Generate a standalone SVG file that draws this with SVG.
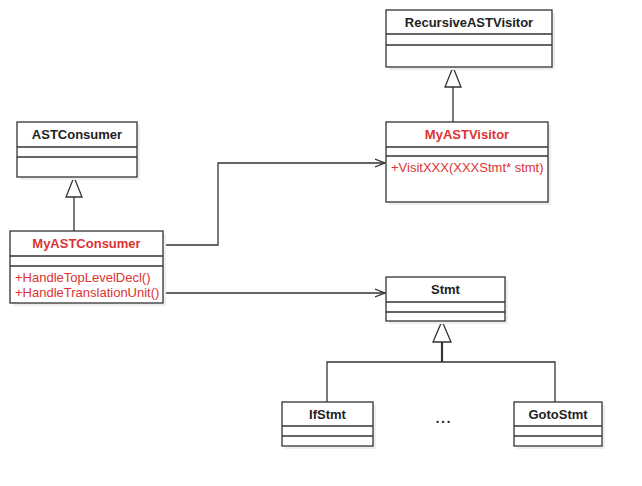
<svg xmlns="http://www.w3.org/2000/svg" width="642" height="486" viewBox="0 0 642 486">
<defs>
<style>
.box{fill:#fff;stroke:#333;stroke-width:1.3}
.sh{fill:#eeeeee}
.div{stroke:#333;stroke-width:1.3}
.ln{fill:none;stroke:#333;stroke-width:1.3}
.tri{fill:#fff;stroke:#333;stroke-width:1.3}
.nm{font-family:"Liberation Sans",Arial,sans-serif;font-size:13px;font-weight:bold;fill:#222;text-anchor:middle}
.nmr{font-family:"Liberation Sans",Arial,sans-serif;font-size:13px;font-weight:bold;fill:#db3333;text-anchor:middle}
.op{font-family:"Liberation Sans",Arial,sans-serif;font-size:13px;fill:#db3333}
</style>
<marker id="open" markerWidth="12" markerHeight="10" refX="10" refY="5" orient="auto" markerUnits="userSpaceOnUse">
<path d="M0,1 L10,5 L0,9" fill="none" stroke="#333" stroke-width="1.3"/>
</marker>
</defs>
<rect width="642" height="486" fill="#fff"/>

<g id="connectors">
<line class="ln" x1="74" y1="197" x2="74" y2="231"/>
<path class="tri" d="M74,177 L82,197 L66,197 Z"/>
<line class="ln" x1="453" y1="87" x2="453" y2="122"/>
<path class="tri" d="M453,67 L461,87 L445,87 Z"/>
<path class="ln" d="M163,245 H218 V163 H385" marker-end="url(#open)"/>
<path class="ln" d="M163,293 H385" marker-end="url(#open)"/>
<line x1="442" y1="342" x2="442" y2="362" stroke="#333" stroke-width="2.2"/>
<path class="ln" d="M327,402 V362 H555 V402"/>
<path class="tri" d="M442,321 L451,342 L433,342 Z"/>
</g>

<g id="ASTConsumer">
<rect class="sh" x="20" y="125" width="120" height="55"/>
<rect class="box" x="17" y="122" width="120" height="55"/>
<line class="div" x1="17" y1="147" x2="137" y2="147"/>
<line class="div" x1="17" y1="157" x2="137" y2="157"/>
<text class="nm" x="77" y="139">ASTConsumer</text>
</g>

<g id="MyASTConsumer">
<rect class="sh" x="13" y="234" width="153" height="72"/>
<rect class="box" x="10" y="231" width="153" height="72"/>
<line class="div" x1="10" y1="256" x2="163" y2="256"/>
<line class="div" x1="10" y1="266" x2="163" y2="266"/>
<text class="nmr" x="86.5" y="248">MyASTConsumer</text>
<text class="op" x="15" y="282">+HandleTopLevelDecl()</text>
<text class="op" x="15" y="297">+HandleTranslationUnit()</text>
</g>

<g id="RecursiveASTVisitor">
<rect class="sh" x="389" y="13" width="166" height="57"/>
<rect class="box" x="386" y="10" width="166" height="57"/>
<line class="div" x1="386" y1="34" x2="552" y2="34"/>
<line class="div" x1="386" y1="45" x2="552" y2="45"/>
<text class="nm" x="469" y="27">RecursiveASTVisitor</text>
</g>

<g id="MyASTVisitor">
<rect class="sh" x="389" y="125" width="162" height="80"/>
<rect class="box" x="386" y="122" width="162" height="80"/>
<line class="div" x1="386" y1="147" x2="548" y2="147"/>
<line class="div" x1="386" y1="156" x2="548" y2="156"/>
<text class="nmr" x="467" y="139">MyASTVisitor</text>
<text class="op" x="391" y="172">+VisitXXX(XXXStmt* stmt)</text>
</g>

<g id="Stmt">
<rect class="sh" x="389" y="280" width="119" height="44"/>
<rect class="box" x="386" y="277" width="119" height="44"/>
<line class="div" x1="386" y1="302" x2="505" y2="302"/>
<line class="div" x1="386" y1="312" x2="505" y2="312"/>
<text class="nm" x="445.5" y="294">Stmt</text>
</g>

<g id="IfStmt">
<rect class="sh" x="285" y="405" width="91" height="44"/>
<rect class="box" x="282" y="402" width="91" height="44"/>
<line class="div" x1="282" y1="426" x2="373" y2="426"/>
<line class="div" x1="282" y1="436" x2="373" y2="436"/>
<text class="nm" x="327.5" y="419">IfStmt</text>
</g>

<g id="GotoStmt">
<rect class="sh" x="517" y="405" width="88" height="44"/>
<rect class="box" x="514" y="402" width="88" height="44"/>
<line class="div" x1="514" y1="426" x2="602" y2="426"/>
<line class="div" x1="514" y1="436" x2="602" y2="436"/>
<text class="nm" x="558" y="419">GotoStmt</text>
</g>

<text x="443" y="423" font-family="Liberation Sans,Arial,sans-serif" font-size="20" fill="#222" text-anchor="middle">...</text>
</svg>
